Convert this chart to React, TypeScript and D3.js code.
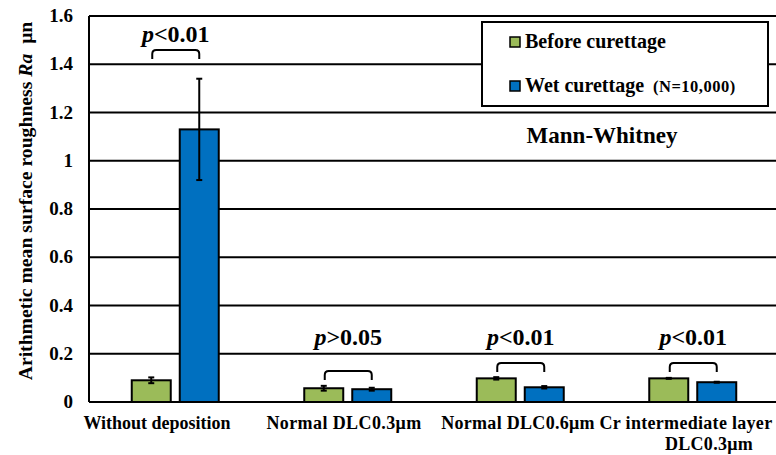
import React from "react";
import * as d3 from "d3";

const categories = ["Without deposition", "Normal DLC0.3μm", "Normal DLC0.6μm", "Cr intermediate layer\nDLC0.3μm"];
const seriesNames = ["Before curettage", "Wet curettage"];
const beforeValues = [0.09, 0.057, 0.098, 0.098];
const beforeErrors = [0.012, 0.01, 0.005, 0.002];
const wetValues = [1.13, 0.053, 0.061, 0.082];
const wetErrors = [0.21, 0.006, 0.005, 0.002];
const pLabels = [
  { sym: "<", val: "0.01" },
  { sym: ">", val: "0.05" },
  { sym: "<", val: "0.01" },
  { sym: "<", val: "0.01" },
];
const yTicks = [0, 0.2, 0.4, 0.6, 0.8, 1, 1.2, 1.4, 1.6];

const COLORS = ["#9BBB59", "#0070C0"];

export default function App() {
  const W = 776, H = 455;
  const left = 89, top = 16, plotW = 690, bottom = 402;
  const y = d3.scaleLinear().domain([0, 1.6]).range([bottom, top]);
  const x = d3.scaleBand<string>().domain(categories).range([left, left + plotW]);
  const barW = 39, gap = 9;
  const series = [
    { vals: beforeValues, errs: beforeErrors },
    { vals: wetValues, errs: wetErrors },
  ];
  const barX = (ci: number, si: number) => {
    const c = x(categories[ci])! + x.bandwidth() / 2;
    return si === 0 ? c - gap / 2 - barW : c + gap / 2;
  };
  const bracketY = [50, 371, 363, 363];
  const textLabelX = [157, 344, 518, 686];
  const labelSpacing = [0, 0.4, 0.3, 0.3];

  return (
    <svg width={W} height={H} style={{ position: "absolute", left: 0, top: 0, background: "#fff" }}>
      <style>{`text { font-family: "Liberation Serif", "Times New Roman", serif; font-weight: bold; }`}</style>
      {/* grid lines */}
      {yTicks.map((t) => (
        <line key={t} x1={left} x2={left + plotW} y1={y(t)} y2={y(t)} stroke="#000" strokeWidth={2} />
      ))}
      <line x1={left} x2={left} y1={top} y2={bottom} stroke="#000" strokeWidth={2} />
      {/* y tick labels */}
      {yTicks.map((t) => (
        <text key={t} x={73} y={y(t) + 6} textAnchor="end" fontSize={19}>
          {d3.format("~g")(t)}
        </text>
      ))}
      {/* y axis title */}
      <text transform={`translate(32,201) rotate(-90)`} textAnchor="middle" fontSize={19.7} xmlSpace="preserve">
        Arithmetic mean surface roughness <tspan fontStyle="italic">Ra</tspan>{"  μn"}
      </text>
      {/* bars */}
      {series.map((s, si) =>
        s.vals.map((v, ci) => {
          const bx = barX(ci, si);
          const cx = bx + barW / 2;
          const e = s.errs[ci];
          return (
            <g key={`${si}-${ci}`}>
              <rect x={bx} y={y(v)} width={barW} height={bottom - y(v)} fill={COLORS[si]} stroke="#000" strokeWidth={2} />
              <line x1={cx} x2={cx} y1={y(v + e)} y2={y(v - e)} stroke="#000" strokeWidth={2} />
              <line x1={cx - 3} x2={cx + 3} y1={y(v + e)} y2={y(v + e)} stroke="#000" strokeWidth={2} />
              <line x1={cx - 3} x2={cx + 3} y1={y(v - e)} y2={y(v - e)} stroke="#000" strokeWidth={2} />
            </g>
          );
        })
      )}
      {/* significance brackets */}
      {categories.map((c, ci) => {
        const x1 = barX(ci, 0) + barW / 2 + 1;
        const x2 = barX(ci, 1) + barW / 2;
        const by = bracketY[ci];
        const r = 4;
        const path = `M${x1},${by + 9} L${x1},${by + r} Q${x1},${by} ${x1 + r},${by} L${x2 - r},${by} Q${x2},${by} ${x2},${by + r} L${x2},${by + 9}`;
        const tx = (x1 + x2) / 2;
        const ty = ci === 0 ? 42 : 345;
        return (
          <g key={c}>
            <path d={path} fill="none" stroke="#000" strokeWidth={2} />
            <text x={tx} y={ty} textAnchor="middle" fontSize={24}>
              <tspan fontStyle="italic">p</tspan>
              {pLabels[ci].sym + pLabels[ci].val}
            </text>
          </g>
        );
      })}
      {/* x labels */}
      {categories.map((c, ci) => {
        const lines = c.split("\n");
        return (
          <text key={c} x={textLabelX[ci]} y={429} textAnchor="middle" fontSize={18} letterSpacing={labelSpacing[ci]}>
            {lines.map((l, li) => (
              <tspan key={li} x={li === 0 ? textLabelX[ci] : 709} dy={li === 0 ? 0 : 21}>
                {l}
              </tspan>
            ))}
          </text>
        );
      })}
      {/* legend */}
      <rect x={482} y={22} width={286} height={84} fill="#fff" stroke="#000" strokeWidth={2} />
      {seriesNames.map((n, i) => (
        <g key={n}>
          <rect x={510} y={37 + i * 44} width={10} height={10} fill={COLORS[i]} stroke="#000" strokeWidth={1.5} />
          <text x={525} y={48 + i * 44} fontSize={20}>
            {n}
            {i === 1 && <tspan fontSize={16.5} dx={9} letterSpacing={0.5}>(N=10,000)</tspan>}
          </text>
        </g>
      ))}
      <text x={602} y={143} textAnchor="middle" fontSize={23}>
        Mann-Whitney
      </text>
    </svg>
  );
}
